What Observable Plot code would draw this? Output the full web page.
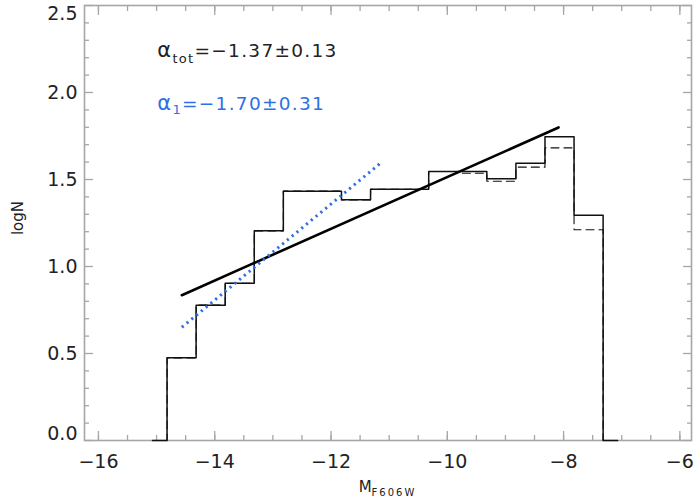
<!DOCTYPE html>
<html><head><meta charset="utf-8">
<script src="https://cdn.jsdelivr.net/npm/d3@7"></script>
<script src="https://cdn.jsdelivr.net/npm/@observablehq/plot@0.6"></script>
<style>body{margin:0;background:#fff}</style>
</head><body><div id="chart"></div>
<script>
// ---- data ----
const binCenters = [-15.07, -14.57, -14.07, -13.57, -13.07, -12.57, -12.07, -11.57, -11.07, -10.57, -10.07, -9.57, -9.07, -8.57, -8.07, -7.57, -7.07];
const logNSolid  = [0, 0.475, 0.778, 0.904, 1.205, 1.433, 1.433, 1.383, 1.444, 1.444, 1.546, 1.546, 1.504, 1.594, 1.745, 1.295, 0];
const logNDashed = [0, 0.475, 0.778, 0.904, 1.205, 1.433, 1.433, 1.383, 1.444, 1.444, 1.546, 1.536, 1.490, 1.571, 1.682, 1.211, 0];
const fitTotX = [-14.566, -8.086];
const fitTotY = [0.835, 1.799];
const fit1X = [-14.566, -11.116];
const fit1Y = [0.651, 1.603];
const xMajorTicks = [-16, -14, -12, -10, -8, -6];
const xMinorTicks = [-16, -15.5, -15, -14.5, -14, -13.5, -13, -12.5, -12, -11.5, -11, -10.5, -10, -9.5, -9, -8.5, -8, -7.5, -7, -6.5, -6];
const yMajorTicks = [0, 0.5, 1.0, 1.5, 2.0, 2.5];
const yMinorTicks = [0.1,0.2,0.3,0.4,0.6,0.7,0.8,0.9,1.1,1.2,1.3,1.4,1.6,1.7,1.8,1.9,2.1,2.2,2.3,2.4];
const alphaTotLabel = "=−1.37±0.13";
const alpha1Label = "=−1.70±0.31";
const xTitleMain = "M", xTitleSub = "F606W", yTitle = "logN";

const solid = binCenters.map((x, i) => ({x, y: logNSolid[i]}));
const dashed = binCenters.map((x, i) => ({x, y: logNDashed[i]}));
const fitTot = fitTotX.map((x, i) => ({x, y: fitTotY[i]}));
const fit1 = fit1X.map((x, i) => ({x, y: fit1Y[i]}));

const axisGray = "#a6a6a6";
const fmtX = d => (d < 0 ? "−" + Math.abs(d) : String(d));
const fmtY = d => d.toFixed(1);

const plot = Plot.plot({
  width: 700, height: 500,
  marginLeft: 84, marginRight: 9, marginTop: 5, marginBottom: 60,
  x: {domain: [-16.24, -5.80]},
  y: {domain: [0, 2.5]},
  style: {fontFamily: "DejaVu Sans", fontSize: "19px", background: "white", color: "#222"},
  marks: [
    // ticks (inward), all four sides
    Plot.axisX({anchor: "bottom", ticks: xMinorTicks, tickSize: -5, fill: "none", stroke: axisGray, strokeWidth: 1.3, label: null}),
    Plot.axisX({anchor: "bottom", ticks: xMajorTicks, tickSize: -9, fill: "none", stroke: axisGray, strokeWidth: 1.3, label: null}),
    Plot.axisX({anchor: "top", ticks: xMinorTicks, tickSize: -5, fill: "none", stroke: axisGray, strokeWidth: 1.3, label: null}),
    Plot.axisX({anchor: "top", ticks: xMajorTicks, tickSize: -9, fill: "none", stroke: axisGray, strokeWidth: 1.3, label: null}),
    Plot.axisY({anchor: "left", ticks: yMinorTicks, tickSize: -5, fill: "none", stroke: axisGray, strokeWidth: 1.3, label: null}),
    Plot.axisY({anchor: "left", ticks: yMajorTicks, tickSize: -9, fill: "none", stroke: axisGray, strokeWidth: 1.3, label: null}),
    Plot.axisY({anchor: "right", ticks: yMinorTicks, tickSize: -5, fill: "none", stroke: axisGray, strokeWidth: 1.3, label: null}),
    Plot.axisY({anchor: "right", ticks: yMajorTicks, tickSize: -9, fill: "none", stroke: axisGray, strokeWidth: 1.3, label: null}),
    // tick labels
    Plot.axisX({anchor: "bottom", ticks: xMajorTicks, tickSize: 0, tickPadding: 14, tickFormat: fmtX, label: null}),
    Plot.axisY({anchor: "left", ticks: yMajorTicks.slice(1, -1), tickSize: 0, tickPadding: 7, tickFormat: fmtY, label: null}),
    Plot.axisY({anchor: "left", ticks: [yMajorTicks[0]], tickSize: 0, tickPadding: 7, tickFormat: fmtY, dy: -7, label: null}),
    Plot.axisY({anchor: "left", ticks: [yMajorTicks[5]], tickSize: 0, tickPadding: 7, tickFormat: fmtY, dy: 8, label: null}),
    Plot.frame({stroke: axisGray, strokeWidth: 1.6}),
    // histograms
    Plot.line(dashed, {x: "x", y: "y", curve: "step", stroke: "#111", strokeWidth: 1.1, strokeDasharray: "8,5"}),
    Plot.line(solid, {x: "x", y: "y", curve: "step", stroke: "#111", strokeWidth: 1.5}),
    // fits
    Plot.line(fitTot, {x: "x", y: "y", stroke: "#000", strokeWidth: 2.6}),
    Plot.line(fit1, {x: "x", y: "y", stroke: "#2f6fe6", strokeWidth: 3, strokeDasharray: "2.2,4", strokeLinecap: "butt"})
  ]
});
document.getElementById("chart").appendChild(plot);

// ---- annotations & axis titles with subscripts ----
const sx = plot.scale("x"), sy = plot.scale("y");
const svg = d3.select(plot);
function alphaText(x, y, sub, rest, color, subDy) {
  const t = svg.append("text").attr("x", x).attr("y", y).attr("text-anchor", "start")
    .attr("fill", color).attr("font-family", "DejaVu Sans").attr("font-size", 18.5)
    .attr("letter-spacing", 1.3);
  t.append("tspan").attr("font-size", 21).text("α");
  t.append("tspan").attr("font-size", 13).attr("dy", subDy).text(sub);
  t.append("tspan").attr("dy", -subDy).text(rest);
}
alphaText(sx.apply(-14.98), sy.apply(2.20), "tot", alphaTotLabel, "#222", 6);
alphaText(sx.apply(-14.98), sy.apply(1.897), "1", alpha1Label, "#2f6fe6", 4);

const cx = (84 + 691) / 2;
const xt = svg.append("text").attr("x", cx).attr("y", 492).attr("text-anchor", "middle")
  .attr("fill", "#222").attr("font-family", "DejaVu Sans").attr("font-size", 15);
xt.append("tspan").text(xTitleMain);
xt.append("tspan").attr("font-size", 10).attr("letter-spacing", 2).attr("dy", 4).text(xTitleSub);

svg.append("text").attr("transform", "translate(18,218) rotate(-90)")
  .attr("text-anchor", "middle").attr("dominant-baseline", "central")
  .attr("fill", "#222").attr("font-family", "DejaVu Sans").attr("font-size", 15).text(yTitle);
</script>
</body></html>
